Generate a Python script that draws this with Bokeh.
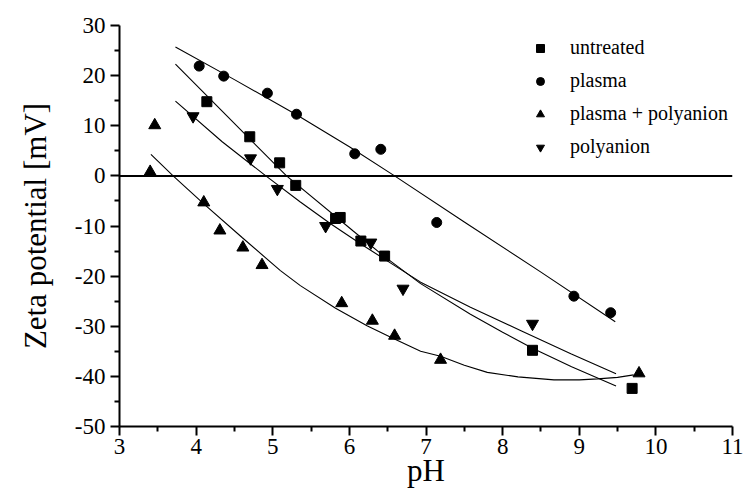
from bokeh.plotting import figure
from bokeh.models import Range1d, FixedTicker, Span, Legend, LegendItem
from bokeh.embed import file_html
from bokeh.resources import INLINE

# ---------------- data ----------------
untreated_x = [4.14, 4.70, 5.09, 5.30, 5.82, 5.88, 6.15, 6.46, 8.39, 9.69]
untreated_y = [14.8, 7.8, 2.6, -1.9, -8.5, -8.3, -13.0, -16.0, -34.8, -42.4]

plasma_x = [4.04, 4.36, 4.93, 5.31, 6.07, 6.41, 7.14, 8.93, 9.41]
plasma_y = [21.9, 19.9, 16.5, 12.3, 4.4, 5.3, -9.3, -24.0, -27.3]

pp_x = [3.40, 3.46, 4.10, 4.31, 4.61, 4.86, 5.90, 6.30, 6.59, 7.19, 9.78]
pp_y = [0.8, 10.1, -5.3, -10.9, -14.3, -17.8, -25.4, -28.9, -31.9, -36.7, -39.4]

polyanion_x = [3.96, 4.71, 5.06, 5.69, 6.28, 6.70, 8.39]
polyanion_y = [11.9, 3.5, -2.6, -10.0, -13.3, -22.5, -29.5]

# fitted curves (vertices)
untreated_fit_x = [3.73, 4.45, 5.18, 6.05, 6.45, 6.93, 7.58, 8.00, 8.39, 8.90, 9.48]
untreated_fit_y = [22.3, 11.2, 0.0, -11.0, -16.0, -21.5, -27.6, -31.2, -34.4, -38.1, -41.9]

plasma_fit_x = [3.73, 4.50, 5.31, 6.00, 6.59, 7.50, 8.50, 9.47]
plasma_fit_y = [25.7, 19.2, 12.2, 5.8, 0.0, -9.2, -19.2, -29.1]

pp_fit_x = [3.41, 3.70, 4.10, 4.60, 5.10, 5.36, 5.82, 6.23, 6.54, 6.93, 7.19, 7.50,
            7.80, 8.20, 8.67, 9.00, 9.24, 9.50, 9.71]
pp_fit_y = [4.3, 0.0, -5.6, -12.3, -18.9, -21.9, -26.4, -29.9, -32.2, -35.0, -36.0, -37.8,
            -39.2, -40.1, -40.7, -40.7, -40.5, -40.2, -39.7]

polyanion_fit_x = [3.73, 4.34, 4.91, 5.36, 5.75, 6.15, 6.55, 6.93, 7.58, 8.24, 8.89, 9.48]
polyanion_fit_y = [14.9, 6.8, 0.0, -5.2, -9.5, -13.6, -17.5, -21.2, -26.2, -30.9, -35.5, -39.5]

x_ticks = [3, 4, 5, 6, 7, 8, 9, 10, 11]
x_minor = [3.5, 4.5, 5.5, 6.5, 7.5, 8.5, 9.5, 10.5]
y_ticks = [-50, -40, -30, -20, -10, 0, 10, 20, 30]
y_minor = [-45, -35, -25, -15, -5, 5, 15, 25]
y_tick_labels = ["-50", "-40", "-30", "-20", "-10", "0", "10", "20", "30"]

series_names = ["untreated", "plasma", "plasma + polyanion", "polyanion"]
x_label = "pH"
y_label = "Zeta potential [mV]"

FONT = "Liberation Serif"

# ---------------- figure ----------------
p = figure(width=744, height=495,
           x_range=Range1d(3, 11), y_range=Range1d(-50, 30),
           output_backend="svg", toolbar_location=None,
           min_border_left=119, min_border_right=12,
           min_border_top=25, min_border_bottom=69)
p.outline_line_color = None
p.xgrid.visible = False
p.ygrid.visible = False
p.background_fill_color = "white"
p.border_fill_color = "white"

for ax in (p.xaxis[0], p.yaxis[0]):
    ax.axis_line_width = 2
    ax.axis_line_color = "black"
    ax.major_tick_line_width = 2
    ax.minor_tick_line_width = 2
    ax.major_tick_line_color = "black"
    ax.minor_tick_line_color = "black"
    ax.major_tick_in = 0
    ax.major_tick_out = 9
    ax.minor_tick_in = 0
    ax.minor_tick_out = 5
    ax.major_label_text_font = FONT
    ax.major_label_text_font_size = "23px"
    ax.major_label_text_color = "black"
    ax.axis_label_text_font = FONT
    ax.axis_label_text_font_size = "31px"
    ax.axis_label_text_font_style = "normal"
    ax.axis_label_text_color = "black"

p.xaxis[0].ticker = FixedTicker(ticks=x_ticks, minor_ticks=x_minor)
p.yaxis[0].ticker = FixedTicker(ticks=y_ticks, minor_ticks=y_minor)
p.yaxis[0].major_label_overrides = {t: s for t, s in zip(y_ticks, y_tick_labels)}
p.xaxis[0].major_label_standoff = 3
p.yaxis[0].major_label_standoff = 5

p.yaxis[0].axis_label = y_label
p.yaxis[0].axis_label_standoff = 19
p.xaxis[0].axis_label = x_label
p.xaxis[0].axis_label_standoff = -4

# zero line
p.add_layout(Span(location=0, dimension="width", line_color="black", line_width=2))

# fitted curves
for fx, fy in [(untreated_fit_x, untreated_fit_y), (plasma_fit_x, plasma_fit_y),
               (pp_fit_x, pp_fit_y), (polyanion_fit_x, polyanion_fit_y)]:
    p.line(fx, fy, line_color="black", line_width=1.1)

# markers
r1 = p.scatter(untreated_x, untreated_y, marker="square", size=10,
               fill_color="black", line_color="black")
r2 = p.scatter(plasma_x, plasma_y, marker="circle", size=10,
               fill_color="black", line_color="black")
r3 = p.scatter(pp_x, pp_y, marker="triangle", size=12,
               fill_color="black", line_color="black")
r4 = p.scatter(polyanion_x, polyanion_y, marker="inverted_triangle", size=12,
               fill_color="black", line_color="black")

legend = Legend(items=[LegendItem(label=n, renderers=[r]) for n, r in
                       zip(series_names, [r1, r2, r3, r4])],
                location=(411, 268), padding=0, margin=0,
                glyph_width=20, glyph_height=20, label_height=20,
                spacing=10, label_standoff=20,
                label_text_font=FONT, label_text_font_size="20px",
                label_text_color="black",
                background_fill_alpha=0, border_line_color=None)
p.add_layout(legend, "center")

open("out.html", "w").write(file_html(p, INLINE))
